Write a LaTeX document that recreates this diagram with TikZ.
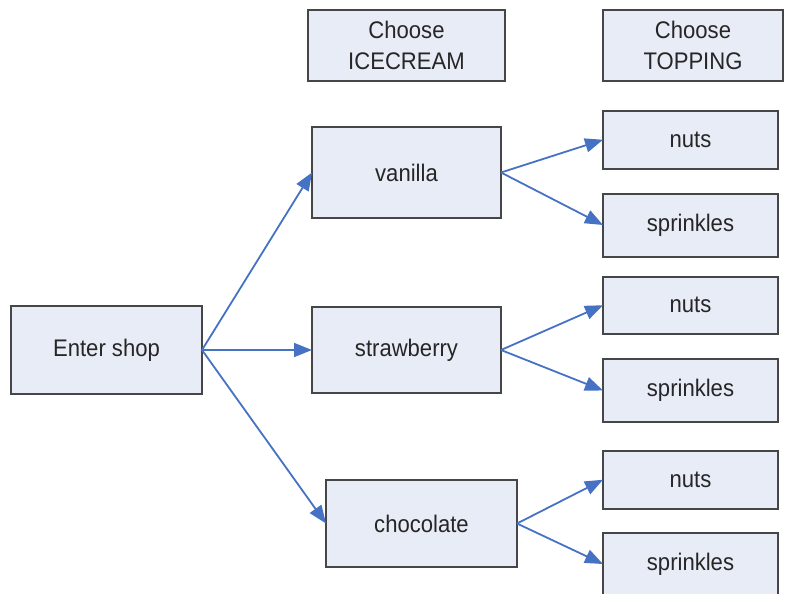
\documentclass[tikz,border=0pt]{standalone}
\usepackage{fontspec}
\setmainfont{Liberation Sans}[FakeStretch=0.92]
\usetikzlibrary{positioning, arrows.meta}
\definecolor{boxfill}{RGB}{232,236,247}
\definecolor{boxline}{RGB}{70,70,70}
\definecolor{arrowblue}{RGB}{70,114,196}

\begin{document}
\begin{tikzpicture}[x=0.5pt, y=-0.5pt, font=\fontsize{12}{15.5}\selectfont,
		box/.style={rectangle, draw=boxline, line width=1pt, fill=boxfill, text=black!85, align=center, outer sep=0pt},
		topbox/.style={box, minimum width=87.5pt},
		arr/.style={draw=arrowblue, line width=0.9pt, -{Triangle[length=9pt, width=7pt, fill=arrowblue]}}]
		\clip (0,0) rectangle (788,594);
		\node[box, minimum width=95.5pt, minimum height=44pt] (Shop) at (106.5,350) {Enter shop};
		\node[box, minimum width=94.5pt, minimum height=43pt] (S) [right=55pt of Shop] {strawberry};
		\node[box, minimum width=94.5pt, minimum height=45.5pt] (V) [above=44.5pt of S] {vanilla};
		\node[box, minimum width=95.5pt, minimum height=43.5pt] (C) [below=43.5pt of S, xshift=7.5pt] {chocolate};
		\node[box, minimum width=98.5pt, minimum height=35.5pt] (IceHead) [above=23pt of V] {Choose\\ICECREAM};
		\node[box, minimum width=90pt, minimum height=35.5pt] (TopHead) [right=49pt of IceHead] {Choose\\TOPPING};
		% toppings, stacked under the header
		\node[topbox, minimum height=28.75pt] (N1) [below=15pt of TopHead, xshift=-1.25pt] {nuts};
		\node[topbox, minimum height=31.5pt] (P1) [below=12.5pt of N1] {sprinkles};
		\node[topbox, minimum height=28.75pt] (N2) [below=10pt of P1] {nuts};
		\node[topbox, minimum height=31.5pt] (P2) [below=12.5pt of N2] {sprinkles};
		\node[topbox, minimum height=28.75pt] (N3) [below=14.5pt of P2] {nuts};
		\node[topbox, minimum height=31.5pt] (P3) [below=12pt of N3] {sprinkles};
		\path (Shop.east) edge[arr] (V.west) edge[arr] (S.west) edge[arr] (C.west);
		\foreach \f/\n/\s in {V/N1/P1, S/N2/P2, C/N3/P3}
			\path (\f.east) edge[arr] (\n.west) edge[arr] (\s.west);
	\end{tikzpicture}
\end{document}
